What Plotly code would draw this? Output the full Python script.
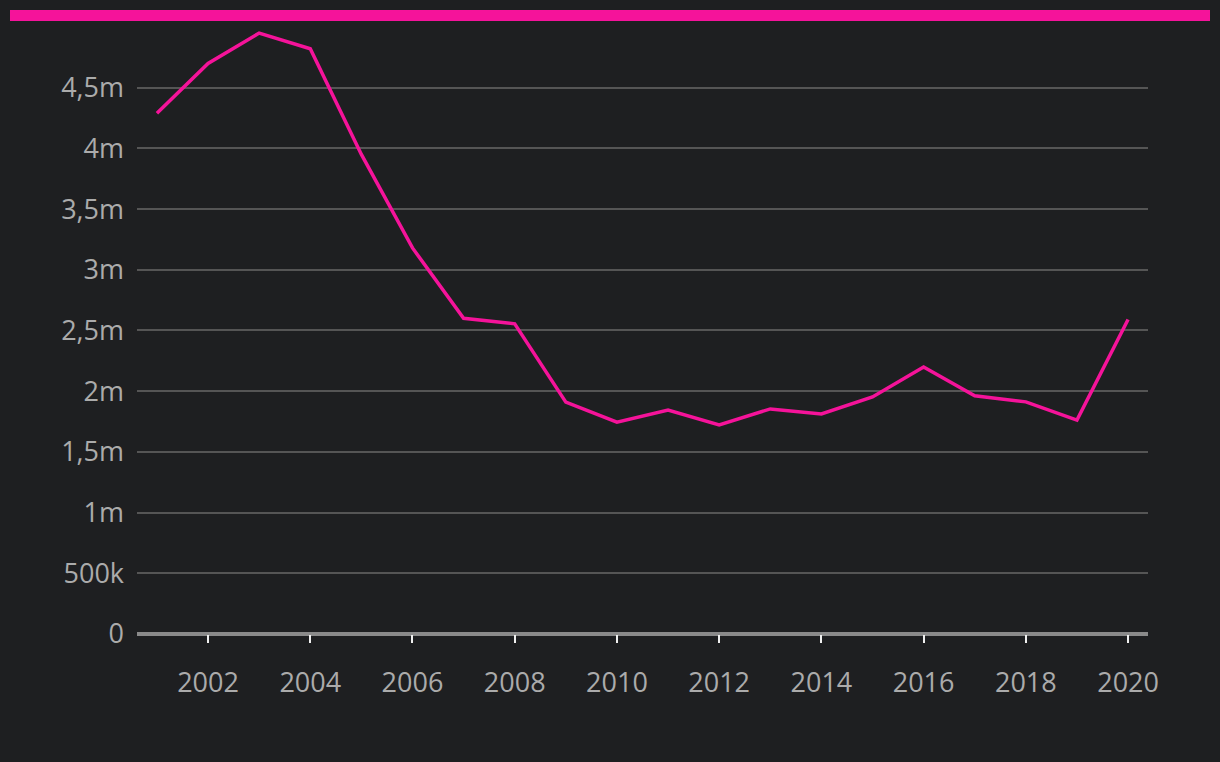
import plotly.graph_objects as go

years = list(range(2001, 2021))
values = [4.29e6, 4.70e6, 4.95e6, 4.82e6, 3.95e6, 3.18e6, 2.60e6, 2.555e6, 1.91e6, 1.745e6,
          1.845e6, 1.723e6, 1.854e6, 1.812e6, 1.953e6, 2.20e6, 1.962e6, 1.912e6, 1.762e6, 2.59e6]

y_tickvals = [0, 500000, 1000000, 1500000, 2000000, 2500000, 3000000, 3500000, 4000000, 4500000]
y_ticktext = ["0", "500k", "1m", "1,5m", "2m", "2,5m", "3m", "3,5m", "4m", "4,5m"]
x_tickvals = list(range(2002, 2021, 2))
x_ticktext = [str(y) for y in x_tickvals]

BG = "#1e1f21"
PINK = "#f5139a"

fig = go.Figure()
fig.add_trace(go.Scatter(x=years, y=values, mode="lines",
                         line=dict(color=PINK, width=3.5), hoverinfo="x+y"))

L, R, T, B = 137, 72, 30, 128
W, H = 1220, 762
pw, ph = W - L - R, H - T - B

fig.update_layout(
    width=W, height=H,
    paper_bgcolor=BG, plot_bgcolor=BG,
    margin=dict(l=L, r=R, t=T, b=B),
    showlegend=False,
    font=dict(family="Open Sans", size=27, color="#ababab"),
    separators=",.",
    xaxis=dict(range=[2000.61, 2020.39], tickvals=x_tickvals, ticktext=x_ticktext,
               showgrid=False, zeroline=False, ticks="outside", ticklen=8, tickwidth=2,
               tickcolor="#f0f0f0", ticklabelstandoff=17, showline=False),
    yaxis=dict(range=[0, 4.975e6], tickvals=y_tickvals, ticktext=y_ticktext,
               showgrid=True, gridcolor="#555555", gridwidth=2,
               zeroline=True, zerolinecolor="#8a8a8a", zerolinewidth=4,
               ticks="", ticklabelstandoff=12),
    shapes=[dict(type="rect", xref="paper", yref="paper",
                 x0=(10 - L) / pw, x1=(1210 - L) / pw,
                 y0=(H - B - 21) / ph, y1=(H - B - 10) / ph,
                 fillcolor=PINK, line=dict(width=0), layer="above")],
)

fig.write_html("out.html", config={"displayModeBar": False},
               post_script="document.body.style.margin='0';document.body.style.background='#1e1f21';")
